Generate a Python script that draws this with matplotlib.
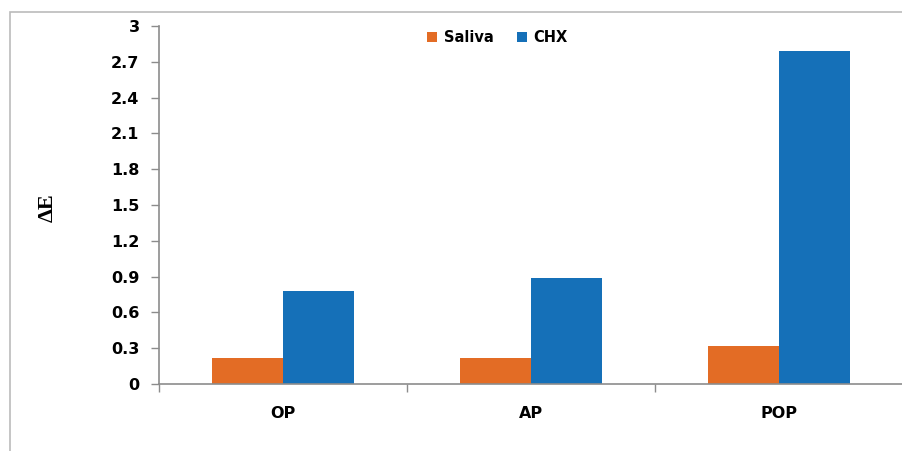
import matplotlib
matplotlib.use("Agg")
import matplotlib.pyplot as plt
from matplotlib.patches import Rectangle
import numpy as np

categories = ["OP", "AP", "POP"]
saliva = [0.22, 0.215, 0.32]
chx = [0.78, 0.89, 2.79]
yticks = [0, 0.3, 0.6, 0.9, 1.2, 1.5, 1.8, 2.1, 2.4, 2.7, 3]

orange = "#E36C25"
blue = "#1570B8"

fig = plt.figure(figsize=(9.02, 4.51), dpi=100)
# outer chart frame (cropped on right and bottom)
fig.patches.append(Rectangle((10 / 902, -0.05), 1.1, 1 - 12 / 451 + 0.05,
                             transform=fig.transFigure, fill=False,
                             edgecolor="#bbbbbb", linewidth=1.2))

ax = fig.add_axes([159 / 902, 67 / 451, 744 / 902, 358 / 451])
x = np.arange(len(categories))
w = 0.286
ax.bar(x - w / 2, saliva, w, color=orange, label="Saliva")
ax.bar(x + w / 2, chx, w, color=blue, label="CHX")

ax.set_xlim(-0.5, 2.5)
ax.set_ylim(0, 3)
ax.set_yticks(yticks)
ax.set_yticklabels(["%g" % v for v in yticks])
ax.set_xticks(x)
ax.set_xticklabels(categories)
ax.set_xticks([-0.5, 0.5, 1.5, 2.5], minor=True)

for s in ["top", "right"]:
    ax.spines[s].set_visible(False)
for s in ["left", "bottom"]:
    ax.spines[s].set_color("#8c8c8c")
    ax.spines[s].set_linewidth(1.2)

ax.tick_params(axis="y", length=6, width=1, color="#8c8c8c", pad=8,
               labelsize=11.5)
ax.tick_params(axis="x", which="major", length=0, pad=16, labelsize=11.5)
ax.tick_params(axis="x", which="minor", length=6, width=1, color="#8c8c8c")
for lab in ax.get_yticklabels() + ax.get_xticklabels():
    lab.set_fontweight("bold")
    lab.set_family("DejaVu Sans")

fig.text(48 / 902, 1 - 208 / 451, "ΔE", rotation=90, ha="center",
         va="center", fontsize=16, fontweight="bold", family="Liberation Serif")

leg = ax.legend(loc="upper center", bbox_to_anchor=(0.455, 1.025), ncol=2,
                frameon=False, handlelength=0.7, handleheight=0.7,
                columnspacing=1.6, handletextpad=0.45,
                prop={"family": "DejaVu Sans", "weight": "bold", "size": 10.5})

fig.savefig("out.png", dpi=100)
